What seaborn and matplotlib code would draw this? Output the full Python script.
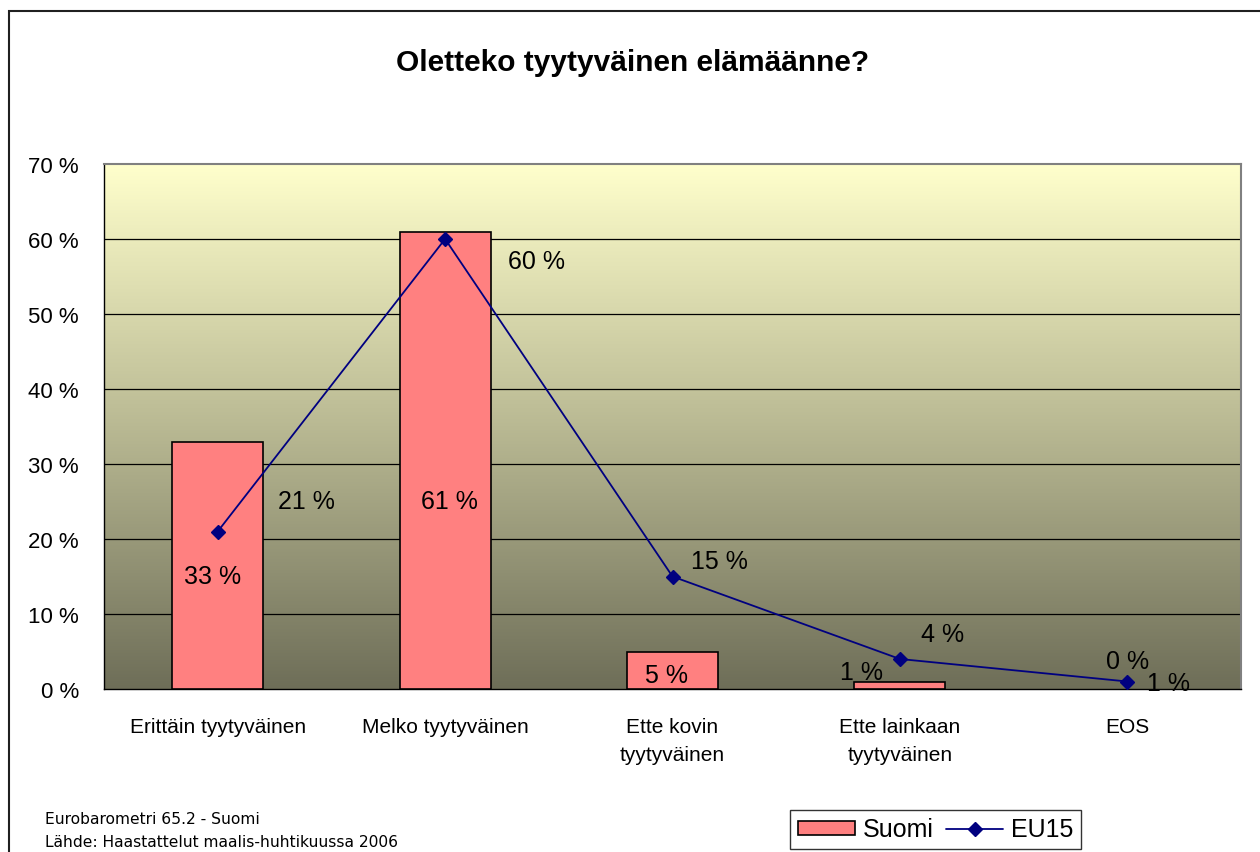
import numpy as np
import matplotlib
matplotlib.use("Agg")
import matplotlib.pyplot as plt
import seaborn as sns
from matplotlib.colors import LinearSegmentedColormap
from matplotlib.patches import Rectangle, Patch
from matplotlib.lines import Line2D

# Data
categories = ["Erittäin tyytyväinen", "Melko tyytyväinen", "Ette kovin\ntyytyväinen",
              "Ette lainkaan\ntyytyväinen", "EOS"]
suomi = [33, 61, 5, 1, 0]
eu15 = [21, 60, 15, 4, 1]
yticks = [0, 10, 20, 30, 40, 50, 60, 70]

# label placement (bar label heights, offsets in points)
bar_label_y = [15, 25, 1.8, 2.3, 3.7]
bar_label_dx = [-4, 3, -4, -28, 0]
line_label_off = [(64, 22), (66, -16), (34, 11), (31, 18), (30, -1)]

sns.set_theme(style="white")
plt.rcParams["font.family"] = ["Liberation Sans", "DejaVu Sans"]
plt.rcParams["text.color"] = "black"
plt.rcParams["xtick.color"] = "black"
plt.rcParams["ytick.color"] = "black"

fig = plt.figure(figsize=(12.6, 8.53), dpi=100)
ax = fig.add_axes([104 / 1260, 1 - 690 / 853, (1241 - 104) / 1260, (690 - 165) / 853])

sns.barplot(x=categories, y=suomi, color="#FF8080", width=0.4, edgecolor="black",
            linewidth=1.2, saturation=1, ax=ax, zorder=3, label="Suomi")
sns.pointplot(x=categories, y=eu15, color="#000080", markers="D", linestyles="-",
              ax=ax, zorder=4, label="EU15", markersize=7, linewidth=1.3)

# hide outline of empty bars
for p in ax.patches:
    if p.get_height() == 0:
        p.set_linewidth(0)

ax.set_xlim(-0.5, 4.5)
ax.set_ylim(0, 70)

# gradient background
cmap = LinearSegmentedColormap.from_list("bg", ["#6E6E58", "#B9B993", "#FFFFCC"])
grad = np.linspace(0, 1, 256).reshape(-1, 1)
ax.imshow(grad, cmap=cmap, origin="lower", aspect="auto",
          extent=[-0.5, 4.5, 0, 70], zorder=0)

for y in yticks[1:-1]:
    ax.axhline(y, color="black", linewidth=0.9, zorder=1)

ax.set_yticks(yticks)
ax.set_yticklabels([f"{v} %" for v in yticks], fontsize=16)
ax.set_xticks(range(len(categories)))
ax.set_xticklabels(categories, fontsize=15, linespacing=1.6)
ax.set_xticks(np.arange(-0.5, 5, 1), minor=True)
ax.tick_params(axis="x", which="major", length=0, pad=20)
ax.tick_params(axis="x", which="minor", length=9, width=1, color="#404040", direction="inout")
ax.tick_params(axis="y", which="major", length=8, width=1, color="black", direction="out", pad=10)
ax.set_xlabel("")
ax.set_ylabel("")

for side in ["top", "right"]:
    ax.spines[side].set_color("#808080")
    ax.spines[side].set_linewidth(1.5)
for side in ["left", "bottom"]:
    ax.spines[side].set_color("black")
    ax.spines[side].set_linewidth(1)

for i, v in enumerate(suomi):
    ax.annotate(f"{v} %", (i, bar_label_y[i]), xytext=(bar_label_dx[i], 0),
                textcoords="offset points", ha="center", va="center", fontsize=18, zorder=6)
for i, v in enumerate(eu15):
    ax.annotate(f"{v} %", (i, v), xytext=line_label_off[i], textcoords="offset points",
                ha="center", va="center", fontsize=18, zorder=6)

if ax.get_legend():
    ax.get_legend().remove()

fig.text(633 / 1260, 1 - 63 / 853, "Oletteko tyytyväinen elämäänne?", ha="center", va="center",
         fontsize=21.5, fontweight="bold")
fig.text(45 / 1260, 1 - 820 / 853, "Eurobarometri 65.2 - Suomi", fontsize=11.2, va="center",
         family="DejaVu Sans")
fig.text(45 / 1260, 1 - 843 / 853, "Lähde: Haastattelut maalis-huhtikuussa 2006", fontsize=11.2,
         va="center", family="DejaVu Sans")

handles = [Patch(facecolor="#FF8080", edgecolor="black", linewidth=1.2),
           Line2D([], [], color="#000080", marker="D", markersize=7, linewidth=1.3)]
leg = fig.legend(handles, ["Suomi", "EU15"], ncol=2, loc="upper left",
                 bbox_to_anchor=(790 / 1260, 1 - 811 / 853), fontsize=18, frameon=True,
                 fancybox=False, edgecolor="black", handlelength=2.3, handleheight=0.5,
                 handletextpad=0.3, columnspacing=0.5, borderpad=0.3, borderaxespad=0)
leg.get_frame().set_linewidth(1)

fig.patches.append(Rectangle((9 / 1260, -0.1), 1.2, 1 - 12 / 853 + 0.1,
                             transform=fig.transFigure, fill=False, edgecolor="#202020",
                             linewidth=1.5))

fig.savefig("out.png", dpi=100)
